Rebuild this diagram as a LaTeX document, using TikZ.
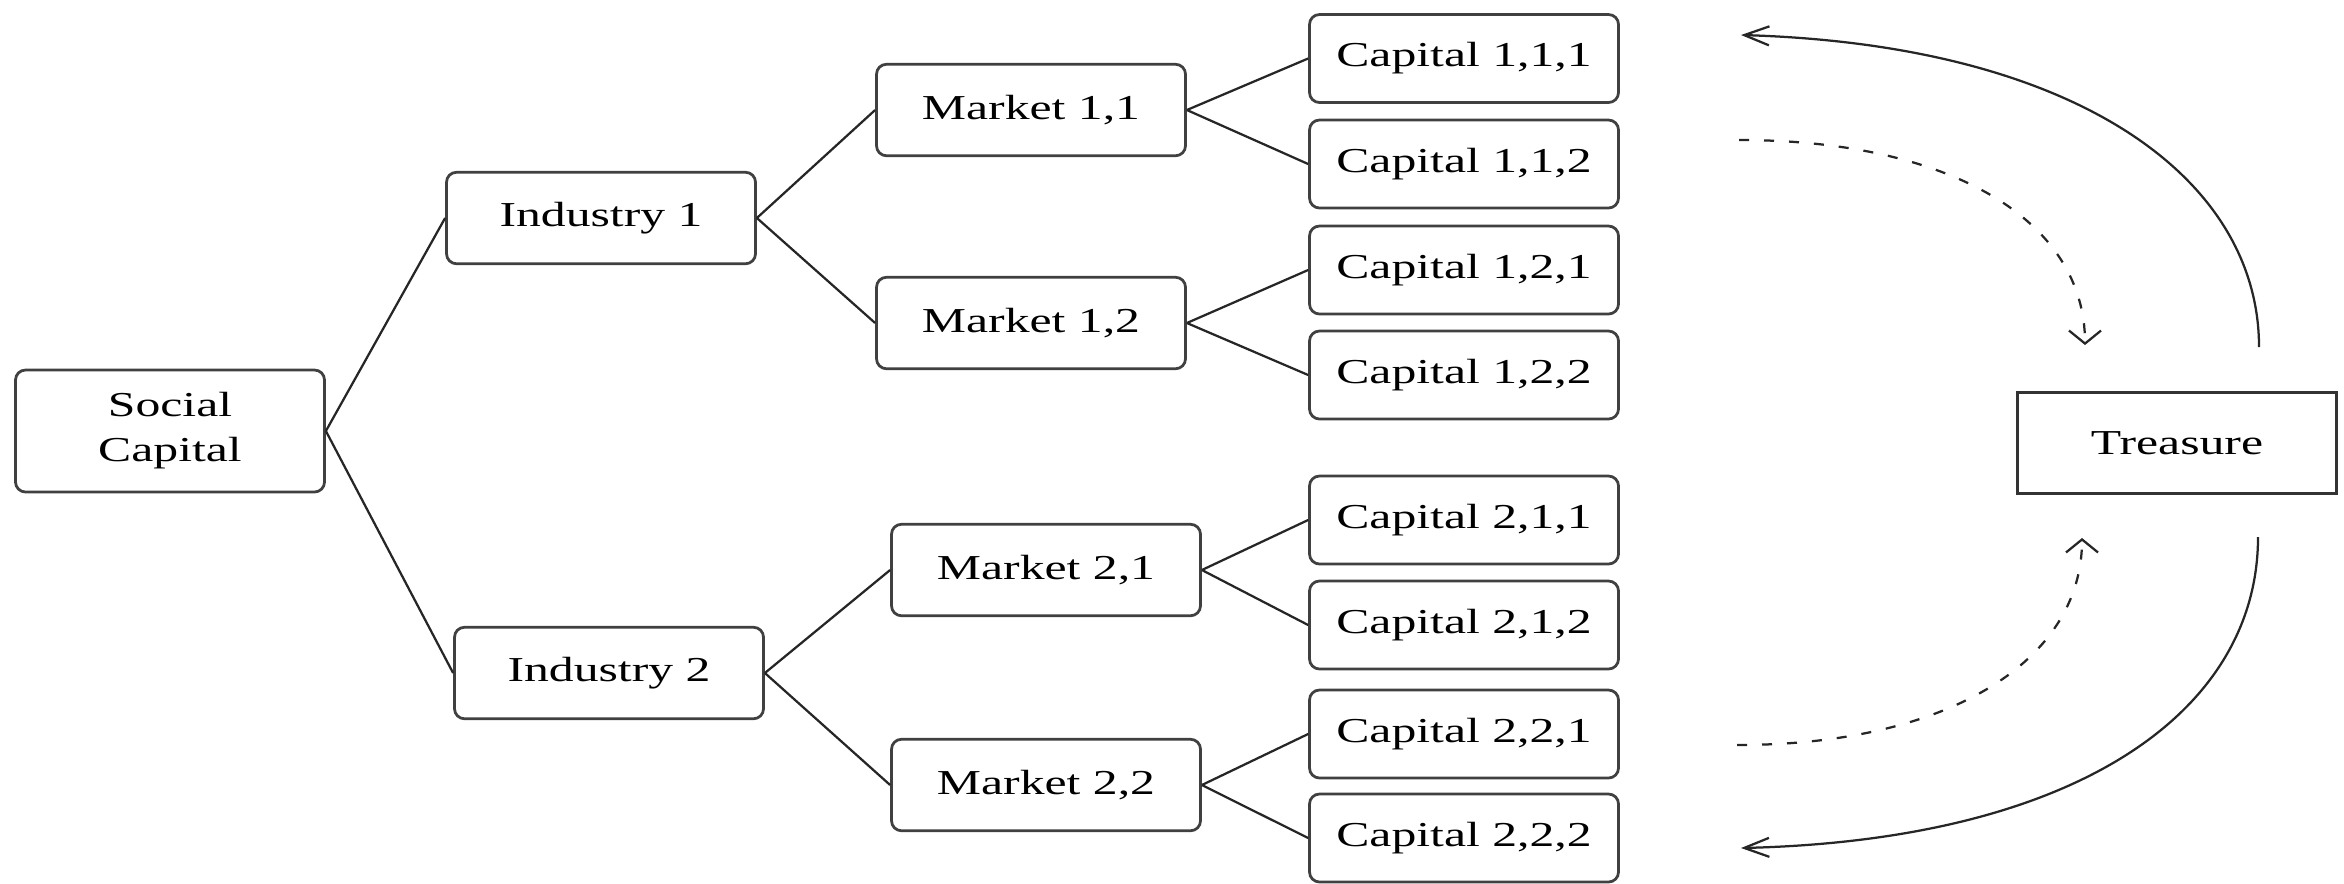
\documentclass[tikz,border=0pt]{standalone}
\usepackage{fontspec}
\setmainfont{Liberation Serif}[FakeStretch=1.42]
\usetikzlibrary{arrows.meta}
\begin{document}
\begin{tikzpicture}[x=0.2pt,y=0.2pt,
  box/.style={draw=black!75, line width=0.55pt, rounded corners=2pt, fill=white,
    minimum width=61.8pt, minimum height=17.6pt, inner sep=0pt,
    font=\fontsize{7}{9}\selectfont, align=center},
  mbox/.style={box, minimum height=18.3pt},
  link/.style={draw=black!85, line width=0.45pt},
  flowh/.style={draw=black!85, line width=0.45pt, -{Straight Barb[length=5pt,width=3.8pt]}},
  flowv/.style={draw=black!85, line width=0.45pt, dash pattern=on 2pt off 3pt,
    -{Straight Barb[length=2.6pt,width=6.4pt]}},
]
\useasboundingbox (0,0) rectangle (2344,-883);

\node[box, minimum height=24.4pt] (sc) at (170,-431) {Social\\Capital};
\node[mbox] (i1) at (601,-218) {Industry 1};
\node[mbox] (i2) at (609,-673) {Industry 2};
\node[mbox] (m11) at (1031,-110) {Market 1,1};
\node[mbox] (m12) at (1031,-323) {Market 1,2};
\node[mbox] (m21) at (1046,-570) {Market 2,1};
\node[mbox] (m22) at (1046,-785) {Market 2,2};

\node[box] (c111) at (1464,-58.5) {Capital 1,1,1};
\node[box] (c112) at (1464,-164) {Capital 1,1,2};
\node[box] (c121) at (1464,-270) {Capital 1,2,1};
\node[box] (c122) at (1464,-375) {Capital 1,2,2};
\node[box] (c211) at (1464,-520) {Capital 2,1,1};
\node[box] (c212) at (1464,-625) {Capital 2,1,2};
\node[box] (c221) at (1464,-734) {Capital 2,2,1};
\node[box] (c222) at (1464,-838) {Capital 2,2,2};

\node[draw=black!80, line width=0.7pt, minimum width=63.8pt, minimum height=20.2pt,
  inner sep=0pt, font=\fontsize{7}{9}\selectfont] (tr) at (2177,-443) {Treasure};

\draw[link] (sc.east) -- (i1.west);
\draw[link] (sc.east) -- (i2.west);
\draw[link] (i1.east) -- (m11.west);
\draw[link] (i1.east) -- (m12.west);
\draw[link] (i2.east) -- (m21.west);
\draw[link] (i2.east) -- (m22.west);
\draw[link] (m11.east) -- (c111.west);
\draw[link] (m11.east) -- (c112.west);
\draw[link] (m12.east) -- (c121.west);
\draw[link] (m12.east) -- (c122.west);
\draw[link] (m21.east) -- (c211.west);
\draw[link] (m21.east) -- (c212.west);
\draw[link] (m22.east) -- (c221.west);
\draw[link] (m22.east) -- (c222.west);

\coordinate (a1s) at (2259,-347);
\coordinate (a1e) at (1741,-35);
\coordinate (d1s) at (1739,-140);
\coordinate (d1e) at (2085,-345);
\coordinate (d2s) at (1737,-745);
\coordinate (d2e) at (2082,-538);
\coordinate (a2s) at (2258,-537);
\coordinate (a2e) at (1741,-848);

\draw[flowh] (a1s) .. controls (2259,-180) and (2080,-45) .. (a1e);
\draw[flowv] (d1s) .. controls (1950,-140) and (2085,-220) .. (d1e);
\draw[flowv] (d2s) .. controls (1950,-745) and (2082,-660) .. (d2e);
\draw[flowh] (a2s) .. controls (2258,-710) and (2080,-840) .. (a2e);
\end{tikzpicture}
\end{document}
